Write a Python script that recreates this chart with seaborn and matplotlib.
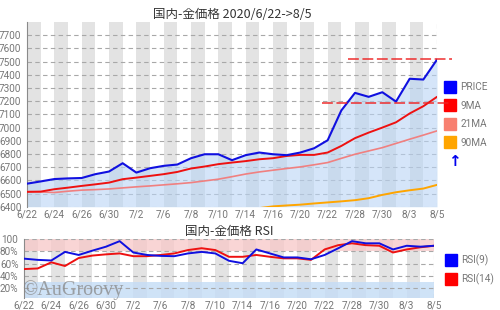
import numpy as np
import pandas as pd
import matplotlib
matplotlib.use("Agg")
import matplotlib.pyplot as plt
from matplotlib.lines import Line2D
import seaborn as sns

# ---------------- data ----------------
dates = ["6/22", "6/23", "6/24", "6/25", "6/26", "6/29", "6/30", "7/1", "7/2", "7/3",
         "7/6", "7/7", "7/8", "7/9", "7/10", "7/13", "7/14", "7/15", "7/16", "7/17",
         "7/20", "7/21", "7/22", "7/27", "7/28", "7/29", "7/30", "7/31", "8/3", "8/4", "8/5"]
price = [6575, 6592, 6610, 6615, 6618, 6647, 6667, 6730, 6659, 6692, 6710, 6720, 6768, 6798, 6798,
         6753, 6791, 6811, 6798, 6791, 6811, 6843, 6904, 7130, 7263, 7233, 7268, 7197, 7370, 7364, 7515]
ma9 = [6513, 6515, 6533, 6545, 6558, 6570, 6583, 6609, 6621, 6634, 6647, 6664, 6690, 6705, 6723,
       6735, 6746, 6760, 6768, 6785, 6793, 6793, 6811, 6861, 6920, 6962, 7000, 7040, 7107, 7162, 7233]
ma21 = [6515, 6512, 6508, 6518, 6526, 6530, 6535, 6543, 6551, 6558, 6566, 6574, 6583, 6596, 6609,
        6628, 6648, 6664, 6677, 6690, 6702, 6718, 6735, 6767, 6798, 6823, 6848, 6880, 6912, 6943, 6975]
ma90 = [np.nan] * 17 + [6390, 6403, 6410, 6416, 6425, 6433, 6441, 6450, 6465, 6490, 6510, 6525, 6538, 6566]
rsi9 = [68, 66, 65, 79, 74, 81, 87.5, 96.5, 78, 74, 72.5, 72, 76.5, 79, 76.5,
        64.5, 60.5, 83, 76.5, 70, 70, 67, 74, 85, 96.5, 93, 93, 83, 89, 87.5, 89]
rsi14 = [51, 52, 62, 56, 69, 73, 75, 76.5, 72, 72, 74, 76.5, 82, 85, 82,
         71, 71, 74, 71, 68.5, 68.5, 66, 83, 90, 93, 90, 89, 78, 83, 86.5, 89]
# resistance lines: level and starting trading-day index
res_levels = [7523, 7187]
res_start = [23.5, 21.6]
res_end = 31.1

main_title = "国内-金価格 2020/6/22->8/5"
rsi_title = "国内-金価格 RSI"
price_ticks = list(range(6400, 7701, 100))
rsi_ticks = [20, 40, 60, 80, 100]
rsi_tick_labels = ["20%", "40%", "60%", "80%", "100"]

df = pd.DataFrame({"i": np.arange(len(dates)), "date": dates, "PRICE": price, "9MA": ma9,
                   "21MA": ma21, "90MA": ma90, "RSI9": rsi9, "RSI14": rsi14})

# ---------------- style ----------------
sns.set_theme(style="white")
plt.rcParams["font.family"] = ["Roboto", "Noto Sans CJK JP", "DejaVu Sans"]
GRAY = "#8a8a8a"
TXT = "#777777"
STRIPE = "#e3e3e3"

fig = plt.figure(figsize=(5, 3.1), dpi=100)
ax = fig.add_axes([0.054, 0.333, 0.820, 0.596])
ax2 = fig.add_axes([0.048, 0.039, 0.820, 0.190])

n = len(dates)
for a in (ax, ax2):
    for k in range(0, n, 2):
        a.axvspan(k, k + 1, color=STRIPE, lw=0, zorder=0)
    a.set_xlim(0, n - 1)
    a.set_xticks(df["i"][::2])
    a.set_xticklabels(df["date"][::2])
    a.tick_params(axis="x", length=0, labelsize=7.2, colors=TXT, pad=2)
    a.tick_params(axis="y", length=3, width=0.8, colors=GRAY, labelsize=7.2, labelcolor=TXT, pad=1)
    for s in ("top", "right", "bottom"):
        a.spines[s].set_visible(False)
    a.spines["left"].set_color(GRAY)
    a.spines["left"].set_linewidth(0.8)
    a.axvline(n - 1, color="#aaaaaa", lw=0.8, ls=(0, (4, 3)), zorder=1)
    a.set_xlabel("")
    a.set_ylabel("")

# main chart
ax.set_ylim(6400, 7800)
ax.set_yticks(price_ticks)
for t in price_ticks:
    ax.axhline(t, color="#a8a8a8", lw=0.8, ls=(0, (4, 3)), zorder=1)
ax.fill_between(df["i"], df["PRICE"], 6400, color="#b9d5f5", alpha=0.6, lw=0, zorder=2)
sns.lineplot(data=df, x="i", y="90MA", ax=ax, color="#ffa500", lw=1.4, zorder=3)
sns.lineplot(data=df, x="i", y="21MA", ax=ax, color="#f08080", lw=1.2, zorder=3)
sns.lineplot(data=df, x="i", y="9MA", ax=ax, color="#ee1111", lw=1.4, zorder=4)
sns.lineplot(data=df, x="i", y="PRICE", ax=ax, color="#1010e0", lw=1.5, zorder=5)
for lvl, st in zip(res_levels, res_start):
    ax.plot([st, res_end], [lvl, lvl], color="#ee2222", lw=1.3, alpha=0.8,
            ls=(0, (6, 2)), clip_on=False, zorder=6)
ax.set_xlabel("")
ax.set_ylabel("")
ax.set_title(main_title, fontsize=9, color="#333333", pad=3,
             fontfamily=["Noto Sans CJK JP", "DejaVu Sans"])

handles = [Line2D([], [], ls="none", marker="s", markersize=9, color=c)
           for c in ("#0000ff", "#ff0000", "#f88070", "#ffa500")]
leg = ax.legend(handles, ["PRICE", "9MA", "21MA", "90MA"], loc="upper left",
                bbox_to_anchor=(1.01, 0.695), frameon=False, fontsize=7.2,
                handlelength=1.0, handletextpad=0.5, labelspacing=0.85, borderaxespad=0,
                labelcolor=TXT)
ax.text(1.043, 0.243, "↑", transform=ax.transAxes, color="#0000ee", fontsize=11,
        fontweight="bold", ha="center", va="center", fontfamily="DejaVu Sans")

# RSI chart
ax2.set_ylim(4, 100)
ax2.axhspan(80, 100, color="#f8c8c8", alpha=0.75, lw=0, zorder=0.5)
ax2.axhspan(0, 30, color="#c4dcf6", alpha=0.8, lw=0, zorder=0.5)
ax2.set_yticks(rsi_ticks)
ax2.set_yticklabels(rsi_tick_labels)
for t in rsi_ticks:
    ax2.axhline(t, color="#a8a8a8", lw=0.8, ls=(0, (4, 3)), zorder=1)
sns.lineplot(data=df, x="i", y="RSI14", ax=ax2, color="#ee1111", lw=1.4, zorder=3)
sns.lineplot(data=df, x="i", y="RSI9", ax=ax2, color="#1010e0", lw=1.4, zorder=4)
ax2.set_xlabel("")
ax2.set_ylabel("")
ax2.set_title(rsi_title, fontsize=9, color="#333333", pad=3,
              fontfamily=["Noto Sans CJK JP", "DejaVu Sans"])
handles2 = [Line2D([], [], ls="none", marker="s", markersize=9, color=c) for c in ("#0000ff", "#ff0000")]
ax2.legend(handles2, ["RSI(9)", "RSI(14)"], loc="upper left", bbox_to_anchor=(1.02, 0.80),
           frameon=False, fontsize=7.2, handlelength=1.0, handletextpad=0.5, labelspacing=0.75,
           borderaxespad=0, labelcolor=TXT)
ax2.text(-0.005, 0.13, "©AuGroovy", transform=ax2.transAxes, fontsize=14.5, color="#888888",
         alpha=0.75, fontfamily="Liberation Serif", ha="left", va="center", zorder=6)

fig.savefig("out.png", dpi=100, facecolor="white")
